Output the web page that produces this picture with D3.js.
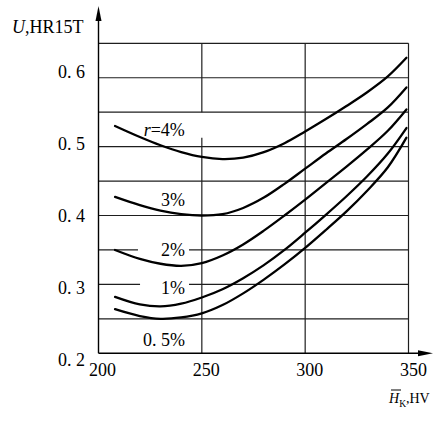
<!DOCTYPE html>
<html><head><meta charset="utf-8">
<script src="https://cdn.jsdelivr.net/npm/d3@7"></script>
<style>
body{margin:0;background:#fff}
svg{display:block}
</style>
</head><body>
<svg id="c" width="433" height="424"></svg>
<script>
// ---- data ----
const hardnessHV = [208, 220, 230, 240, 250, 260, 270, 280, 290, 300, 310, 320, 330, 340, 349];
const u_r4  = [0.530, 0.514, 0.502, 0.492, 0.485, 0.482, 0.484, 0.492, 0.505, 0.522, 0.540, 0.559, 0.579, 0.602, 0.629];
const u_r3  = [0.427, 0.415, 0.407, 0.402, 0.400, 0.402, 0.411, 0.426, 0.446, 0.468, 0.490, 0.511, 0.533, 0.557, 0.586];
const u_r2  = [0.350, 0.337, 0.330, 0.327, 0.331, 0.342, 0.358, 0.378, 0.400, 0.423, 0.447, 0.471, 0.496, 0.523, 0.554];
const u_r1  = [0.282, 0.271, 0.268, 0.272, 0.281, 0.293, 0.309, 0.328, 0.350, 0.375, 0.401, 0.428, 0.457, 0.490, 0.527];
const u_r05 = [0.264, 0.254, 0.250, 0.252, 0.258, 0.270, 0.287, 0.307, 0.329, 0.353, 0.379, 0.406, 0.436, 0.470, 0.513];
const seriesNames = ["r=4%", "3%", "2%", "1%", "0. 5%"];
const seriesValues = [u_r4, u_r3, u_r2, u_r1, u_r05];

const xTicks = [200, 250, 300, 350];
const xTickLabels = ["200", "250", "300", "350"];
const yTicks = [0.2, 0.3, 0.4, 0.5, 0.6];
const yTickLabels = ["0. 2", "0. 3", "0. 4", "0. 5", "0. 6"];
const xGrid = [250, 300, 350];
const yGrid = [0.25, 0.3, 0.35, 0.4, 0.45, 0.5, 0.55, 0.6, 0.65];
// breaks in the grid (data units) where the labels sit
const gridGaps = [
  {dir: "h", at: 0.35, from: 219.1, to: 243.8},
  {dir: "h", at: 0.30, from: 220.1, to: 243.8},
  {dir: "v", at: 250, from: 0.513, to: 0.55}
];
// curve label anchors (text end point, baseline), data units
const labelAnchors = [[241.8, 0.5154], [241.8, 0.4138], [241.8, 0.3412], [241.8, 0.2861], [241.8, 0.2106]];

// ---- drawing ----
const svg = d3.select("#c");
const FONT = '"Liberation Serif"';
const x = d3.scaleLinear().domain([200, 350]).range([98.5, 408.5]);
const y = d3.scaleLinear().domain([0.2, 0.65]).range([353.3, 43.3]);
const xLab = d3.scaleLinear().domain([200, 350]).range([102, 413]);
const yLab = d3.scaleLinear().domain([0.2, 0.6]).range([360, 72]);

const grid = svg.append("g").attr("stroke", "#1e1e1e").attr("stroke-width", 1.2).attr("fill", "none");
function segs(lo, hi, gaps) {
  let s = [[lo, hi]];
  gaps.forEach(g => {
    const out = [];
    s.forEach(([a, b]) => {
      if (g.to <= a || g.from >= b) out.push([a, b]);
      else { if (g.from > a) out.push([a, g.from]); if (g.to < b) out.push([g.to, b]); }
    });
    s = out;
  });
  return s;
}
yGrid.forEach(v => {
  const gaps = gridGaps.filter(g => g.dir === "h" && Math.abs(g.at - v) < 1e-9);
  segs(200, 350, gaps).forEach(([a, b]) => {
    grid.append("line").attr("x1", x(a)).attr("x2", x(b)).attr("y1", y(v)).attr("y2", y(v));
  });
});
xGrid.forEach(v => {
  const gaps = gridGaps.filter(g => g.dir === "v" && g.at === v);
  segs(0.2, 0.65, gaps).forEach(([a, b]) => {
    grid.append("line").attr("x1", x(v)).attr("x2", x(v)).attr("y1", y(a)).attr("y2", y(b));
  });
});

// axes lines with arrows
const ax = svg.append("g");
ax.append("line").attr("x1", x(200)).attr("x2", x(200)).attr("y1", y(0.2)).attr("y2", 14)
  .attr("stroke", "#000").attr("stroke-width", 1.4);
ax.append("path").attr("d", `M${x(200)},6 L${x(200) - 3},21 L${x(200) + 3},21 Z`).attr("fill", "#000");
ax.append("line").attr("x1", x(200)).attr("x2", 425).attr("y1", y(0.2)).attr("y2", y(0.2))
  .attr("stroke", "#000").attr("stroke-width", 1.4);
ax.append("path").attr("d", `M433,${y(0.2)} L418,${y(0.2) - 3} L418,${y(0.2) + 3} Z`).attr("fill", "#000");

// tick labels via d3 axes
const yAx = svg.append("g").attr("transform", "translate(85,0)")
  .call(d3.axisLeft(yLab).tickValues(yTicks).tickSize(0).tickPadding(0)
    .tickFormat((d, i) => yTickLabels[i]));
const xAx = svg.append("g").attr("transform", "translate(0,363)")
  .call(d3.axisBottom(xLab).tickValues(xTicks).tickSize(0).tickPadding(0)
    .tickFormat((d, i) => xTickLabels[i]));
[yAx, xAx].forEach(g => {
  g.attr("font-family", null).attr("font-size", null);
  g.select(".domain").remove();
  g.selectAll("text").attr("fill", "#000").style("font-family", FONT).style("font-size", "18px");
});

// curves
const line = d3.line().x(d => x(d[0])).y(d => y(d[1])).curve(d3.curveCatmullRom.alpha(0.5));
seriesValues.forEach(vals => {
  svg.append("path").datum(hardnessHV.map((h, i) => [h, vals[i]]))
    .attr("d", line).attr("fill", "none").attr("stroke", "#000").attr("stroke-width", 2.3)
    .attr("stroke-linecap", "round");
});

function txt(xp, yp, size) {
  return svg.append("text").attr("x", xp).attr("y", yp).attr("fill", "#000")
    .style("font-family", FONT).style("font-size", size + "px");
}

// curve labels
seriesNames.forEach((n, i) => {
  const t = txt(x(labelAnchors[i][0]), y(labelAnchors[i][1]), 18).attr("text-anchor", "end");
  if (n.startsWith("r=")) {
    t.append("tspan").style("font-style", "italic").text("r");
    t.append("tspan").text(n.slice(1));
  } else t.text(n);
});

// axis titles
const yt = txt(12, 33, 18);
yt.append("tspan").style("font-style", "italic").text("U");
yt.append("tspan").text(",HR15T");

const xt = txt(389, 403, 14);
xt.append("tspan").style("font-style", "italic").text("H");
xt.append("tspan").style("font-size", "9.5px").attr("dy", 3.5).text("K");
xt.append("tspan").attr("dy", -3.5).text(",HV");
svg.append("line").attr("x1", 391).attr("x2", 401).attr("y1", 390).attr("y2", 390)
  .attr("stroke", "#000").attr("stroke-width", 1);
</script>
</body></html>
